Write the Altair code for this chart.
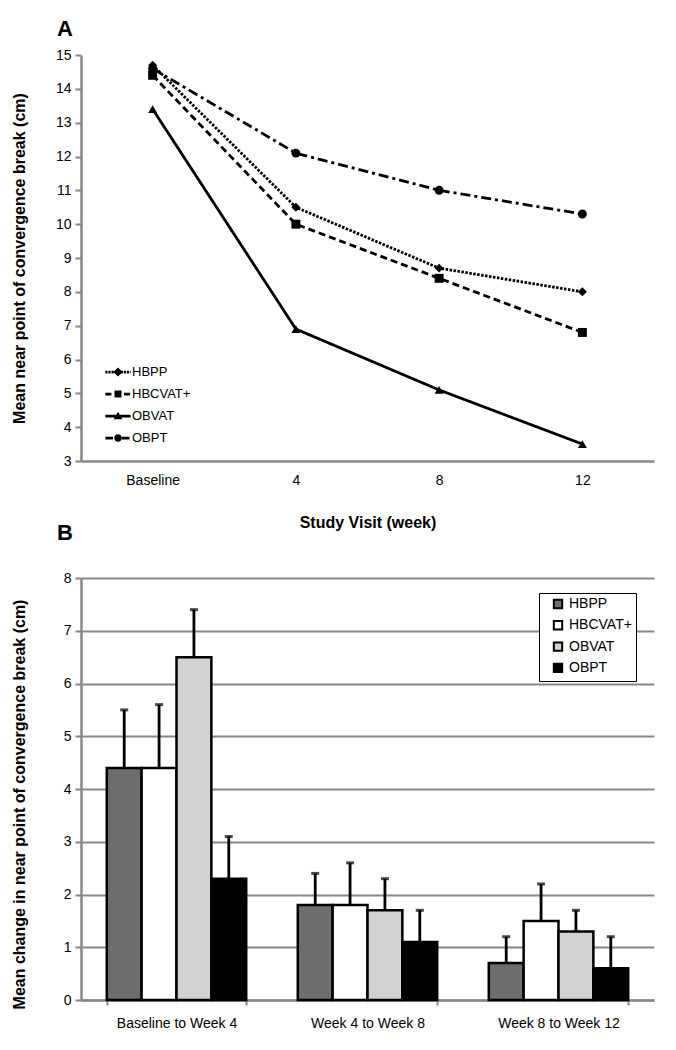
import altair as alt
import pandas as pd

FONT = "Liberation Sans"

# ---------------- Panel A data ----------------
visits = ["Baseline", "4", "8", "12"]
groups = ["HBPP", "HBCVAT+", "OBVAT", "OBPT"]
npc_hbpp = [14.7, 10.5, 8.7, 8.0]
npc_hbcvat = [14.4, 10.0, 8.4, 6.8]
npc_obvat = [13.4, 6.9, 5.1, 3.5]
npc_obpt = [14.6, 12.1, 11.0, 10.3]

# ---------------- Panel B data ----------------
periods = ["Baseline to Week 4", "Week 4 to Week 8", "Week 8 to Week 12"]
chg_hbpp = [4.4, 1.8, 0.7]
chg_hbcvat = [4.4, 1.8, 1.5]
chg_obvat = [6.5, 1.7, 1.3]
chg_obpt = [2.3, 1.1, 0.6]
sd_hbpp = [1.1, 0.6, 0.5]
sd_hbcvat = [1.2, 0.8, 0.7]
sd_obvat = [0.9, 0.6, 0.4]
sd_obpt = [0.8, 0.6, 0.6]

line_series = [npc_hbpp, npc_hbcvat, npc_obvat, npc_obpt]
rows_a = []
for g, vals in zip(groups, line_series):
    for v, val in zip(visits, vals):
        rows_a.append({"visit": v, "group": g, "value": val})
df_a = pd.DataFrame(rows_a)

bar_series = [chg_hbpp, chg_hbcvat, chg_obvat, chg_obpt]
sd_series = [sd_hbpp, sd_hbcvat, sd_obvat, sd_obpt]
rows_b = []
for g, vals, sds in zip(groups, bar_series, sd_series):
    for p, val, sd in zip(periods, vals, sds):
        rows_b.append({"period": p, "group": g, "value": val, "upper": round(val + sd, 2)})
df_b = pd.DataFrame(rows_b)

GRAY = "#878787"

# ---------------- Panel A ----------------
dash_range = [[2.5, 1.5], [7, 4], [1, 0], [10, 4, 3, 4]]
marker_range = ["diamond", "square", "triangle-up", "circle"]


def dash_path(pattern, half=1.15, th=0.125):
    """Legend glyph line drawn as filled pieces (unit symbol coordinates)."""
    out = []
    x = -half
    i = 0
    while x < half:
        seg = pattern[i % len(pattern)]
        if i % 2 == 0:
            x2 = min(x + seg, half)
            out.append(f"M{x:.3f},{-th}H{x2:.3f}V{th}H{x:.3f}Z")
        x += seg
        i += 1
    return "".join(out)


legend_markers = [
    "M0,-0.42L0.42,0L0,0.42L-0.42,0Z",
    "M-0.32,-0.32H0.32V0.32H-0.32Z",
    "M0,-0.38L0.4,0.3H-0.4Z",
    "M0.34,0A0.34,0.34 0 1,1 -0.34,0A0.34,0.34 0 1,1 0.34,0Z",
]
legend_dashes = [[0.2, 0.08], [0.55, 0.3], [2.4, 0.0], [0.7, 0.3, 0.2, 0.3]]
legend_paths = [dash_path(d) + m for d, m in zip(legend_dashes, legend_markers)]

xa = alt.X(
    "visit:N", sort=visits,
    scale=alt.Scale(type="point", padding=0.5),
    axis=alt.Axis(
        title="Study Visit (week)", labelAngle=0, ticks=False, tickSize=0,
        labelPadding=12, labelFontSize=14, titleFontSize=16, titleFontWeight="bold",
        titlePadding=27, domainColor=GRAY, domainWidth=2.5,
    ),
)
ya = alt.Y(
    "value:Q",
    scale=alt.Scale(domain=[3, 15], nice=False, zero=False),
    axis=alt.Axis(
        title="Mean near point of convergence break (cm)", values=list(range(3, 16)),
        grid=False, labelFontSize=14, titleFontSize=16, titleFontWeight="bold",
        domainColor=GRAY, domainWidth=2.5, tickColor=GRAY, tickWidth=2, tickSize=6,
        labelPadding=4, titleX=-62, titleBaseline="middle",
    ),
)

base_a = alt.Chart(df_a).encode(x=xa, y=ya)

lines = base_a.mark_line(color="black", strokeWidth=2.8).encode(
    strokeDash=alt.StrokeDash(
        "group:N", sort=groups,
        scale=alt.Scale(domain=groups, range=dash_range), legend=None,
    ),
    detail="group:N",
)
points = base_a.mark_point(filled=True, color="black", size=80, opacity=1).encode(
    shape=alt.Shape(
        "group:N", scale=alt.Scale(domain=groups, range=marker_range), legend=None
    ),
)
legend_layer = base_a.mark_point(filled=True, color="black", opacity=0).encode(
    shape=alt.Shape(
        "group:N", sort=groups, scale=alt.Scale(domain=groups, range=legend_paths),
        legend=alt.Legend(
            title=None, orient="none", legendX=26, legendY=306,
            symbolSize=484, symbolStrokeWidth=0, symbolFillColor="black",
            symbolOpacity=1, labelFontSize=13, labelFont=FONT,
            labelOffset=3, rowPadding=4, padding=0,
        ),
    ),
)

chart_a = (
    alt.layer(lines, points, legend_layer)
    .resolve_scale(shape="independent")
    .properties(
        width=573, height=406,
        title=alt.TitleParams(
            "A", anchor="start", frame="group", fontSize=22, fontWeight="bold",
            font=FONT, dx=-24, offset=7,
        ),
    )
)

# ---------------- Panel B ----------------
bar_colors = ["#6d6d6d", "#ffffff", "#d2d2d2", "#000000"]

xb = alt.X(
    "period:N", sort=periods,
    scale=alt.Scale(paddingInner=0.27, paddingOuter=0.135),
    axis=alt.Axis(
        title=None, labelAngle=0, labelFontSize=14, labelPadding=11,
        tickBand="extent", tickSize=5, tickColor=GRAY, tickWidth=2,
        domainColor=GRAY, domainWidth=2.5,
    ),
)
xo = alt.XOffset(
    "group:N", sort=groups, scale=alt.Scale(domain=groups, paddingInner=0, paddingOuter=0)
)
yb_axis = alt.Axis(
    title="Mean change in near point of convergence break (cm)",
    values=list(range(0, 9)), grid=True, gridColor=GRAY, gridWidth=2,
    labelFontSize=14, titleFontSize=16, titleFontWeight="bold",
    domainColor=GRAY, domainWidth=2.5, tickColor=GRAY, tickWidth=2, tickSize=6,
    labelPadding=4, titleX=-62, titleY=226, titleBaseline="middle",
)

base_b = alt.Chart(df_b).encode(x=xb, xOffset=xo)

err = base_b.mark_rule(color="black", strokeWidth=2.8).encode(
    y=alt.Y("value:Q", scale=alt.Scale(domain=[0, 8], nice=False), axis=yb_axis),
    y2="upper:Q",
)
bars = base_b.mark_bar(stroke="black", strokeWidth=2.5).encode(
    y=alt.Y("value:Q"),
    fill=alt.Fill(
        "group:N", sort=groups,
        scale=alt.Scale(domain=groups, range=bar_colors),
        legend=alt.Legend(
            title=None, orient="none", legendX=458, legendY=15,
            strokeColor="black", padding=4, fillColor="white",
            symbolType="square", symbolSize=70, symbolStrokeColor="black",
            symbolStrokeWidth=2, symbolOpacity=1, symbolOffset=8,
            labelFontSize=14, labelFont=FONT, labelOffset=4, rowPadding=3.3,
        ),
    ),
)
caps = base_b.mark_tick(color="black", thickness=3, size=8).encode(
    y=alt.Y("upper:Q")
)

chart_b = (
    alt.layer(err, bars, caps)
    .properties(
        width=573, height=422,
        title=alt.TitleParams(
            "B", anchor="start", frame="group", fontSize=22, fontWeight="bold",
            font=FONT, dx=-24, offset=26,
        ),
    )
)

chart = (
    alt.vconcat(chart_a, chart_b, spacing=117, bounds="flush")
    .resolve_scale(fill="independent", shape="independent", strokeDash="independent")
    .resolve_legend(fill="independent", shape="independent", strokeDash="independent")
    .properties(padding={"left": 2, "top": 10, "right": 5, "bottom": 5})
    .configure_view(stroke=None)
    .configure_axis(labelFont=FONT, titleFont=FONT, labelColor="black", titleColor="black")
    .configure_legend(labelFont=FONT)
)

chart.save("out.html", embed_options={"renderer": "svg", "actions": False})
